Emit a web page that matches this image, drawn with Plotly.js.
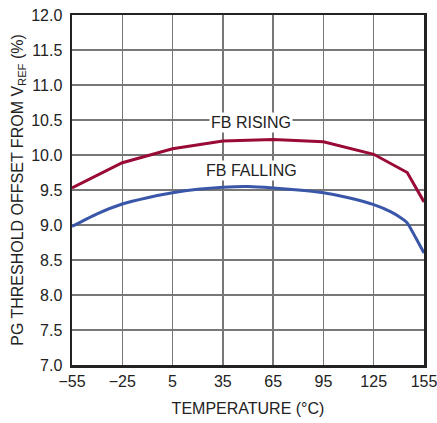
<!DOCTYPE html>
<html><head><meta charset="utf-8">
<script src="https://cdn.plot.ly/plotly-3.0.1.min.js"></script>
<style>html,body{margin:0;padding:0;background:#fff}#chart{width:437px;height:423px}</style>
</head><body><div id="chart"></div>
<script>
const risingTemp = [-55, -25, 5, 35, 65, 95, 125, 145, 155];
const risingVal  = [9.53, 9.89, 10.09, 10.20, 10.22, 10.19, 10.01, 9.75, 9.33];
const fallingTemp = [-55, -40, -25, -10, 5, 20, 35, 50, 65, 80, 95, 110, 125, 135, 140, 145, 150, 155];
const fallingVal  = [8.98, 9.16, 9.30, 9.39, 9.46, 9.51, 9.54, 9.55, 9.53, 9.50, 9.46, 9.39, 9.29, 9.19, 9.12, 9.03, 8.82, 8.60];
const xTicks = [-55, -25, 5, 35, 65, 95, 125, 155];
const xTickText = ['\u221255', '\u221225', '5', '35', '65', '95', '125', '155'];
const yTicks = [7.0, 7.5, 8.0, 8.5, 9.0, 9.5, 10.0, 10.5, 11.0, 11.5, 12.0];
const yTickText = ['7.0','7.5','8.0','8.5','9.0','9.5','10.0','10.5','11.0','11.5','12.0'];
const labels = [{text:'FB RISING', x:52, y:10.46}, {text:'FB FALLING', x:52, y:9.78}];

const font = 'Liberation Sans Narrow, Arial Narrow, Liberation Sans, sans-serif';
const data = [
  {x: risingTemp, y: risingVal, mode:'lines', line:{color:'#9a0a36', width:3}, hoverinfo:'skip'},
  {x: fallingTemp, y: fallingVal, mode:'lines', line:{color:'#3a56a8', width:3, shape:'spline', smoothing:0.6}, hoverinfo:'skip'}
];
const axisCommon = {showgrid:true, gridcolor:'#777', gridwidth:1.3, zeroline:false, showline:true,
  linecolor:'#222', linewidth:2.5, mirror:true, ticks:'', ticklen:0, ticklabeloverflow:'allow',
  tickfont:{family:font, size:16, color:'#222'}};
const layout = {
  width:437, height:423,
  margin:{l:72, r:13, t:15, b:58},
  paper_bgcolor:'#fff', plot_bgcolor:'#fff',
  showlegend:false,
  font:{family:font, size:16, color:'#222'},
  xaxis:Object.assign({}, axisCommon, {range:[-55,155], tickvals:xTicks, ticktext:xTickText,
    title:{text:'TEMPERATURE (\u00B0C)', font:{family:font, size:16, color:'#222'}, standoff:14}}),
  yaxis:Object.assign({}, axisCommon, {range:[7,12], tickvals:yTicks, ticktext:yTickText, ticklabelstandoff:4,
    title:{text:'PG THRESHOLD OFFSET FROM V<sub>REF</sub> (%)', font:{family:font, size:16, color:'#222'}, standoff:4}}),
  annotations: labels.map(l => ({x:l.x, y:l.y, xref:'x', yref:'y', text:l.text, showarrow:false,
    font:{family:font, size:16, color:'#222'}, bgcolor:'#fff', borderpad:1}))
};
Plotly.newPlot('chart', data, layout, {displayModeBar:false, staticPlot:true});
</script></body></html>
